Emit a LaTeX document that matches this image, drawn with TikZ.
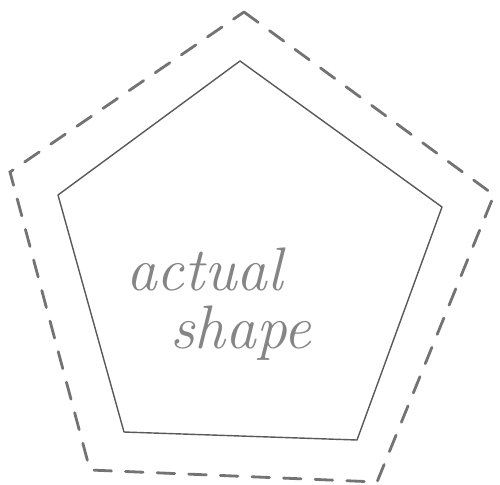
\documentclass[tikz,border=0pt]{standalone}
\usepackage{tikz}
\tikzset{
  outline/.style={draw=black!65,line width=0.8pt,line join=round},
  margin/.style={draw=black!55,line width=1.6pt,line cap=round,dash pattern=on 10pt off 8pt},
  label/.style={text=black!48,font=\fontsize{35}{40}\selectfont\itshape}
}
\begin{document}
\begin{tikzpicture}[x=0.02cm,y=-0.02cm]
  \useasboundingbox (0,0) rectangle (500,484);
  % Outer (dashed) outline
  \draw[margin] (244,12) -- (494,195) -- (377,482) -- (90,470) -- (10,172) -- cycle;
  % Actual shape
  \draw[outline] (240,61) -- (442,207) -- (357,440) -- (124,432) -- (58,195) -- cycle;
  % Labels
  \node[label,anchor=base west] (actual) at (120,290) {actual};
  \node[label,anchor=base west] (shape) at (164,348) {shape};
\end{tikzpicture}
\end{document}
